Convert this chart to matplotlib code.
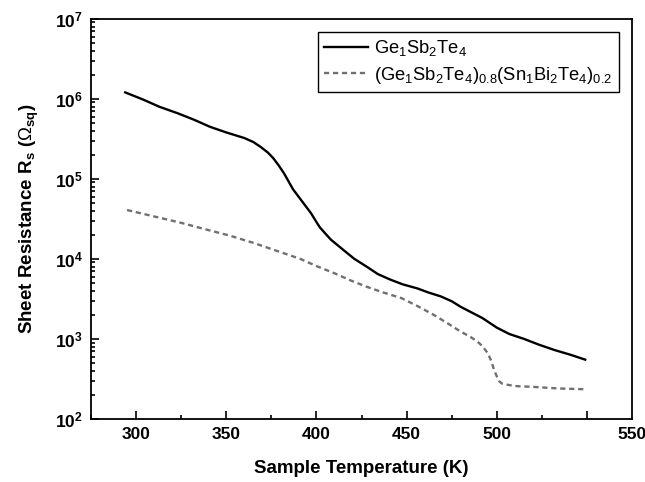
import matplotlib

matplotlib.use("Agg")
import matplotlib.pyplot as plt
from matplotlib.ticker import LogLocator, NullFormatter, MultipleLocator

# sheet resistance vs temperature (log10 of ohm/sq)
temp_gst = [294, 304, 313, 323, 332, 341, 350, 360, 365, 369, 373, 376, 379,
            382, 385, 387, 391, 394, 397, 400, 402, 408, 415, 421, 428, 434,
            441, 448, 456, 462, 469, 475, 480, 486, 492, 500, 507, 515, 523,
            532, 541, 549]
logr_gst = [6.08, 5.99, 5.90, 5.82, 5.74, 5.65, 5.58, 5.51, 5.46, 5.40, 5.33,
            5.26, 5.17, 5.07, 4.95, 4.87, 4.75, 4.66, 4.57, 4.46, 4.39, 4.24,
            4.11, 4.00, 3.90, 3.81, 3.74, 3.68, 3.63, 3.58, 3.53, 3.47, 3.40,
            3.33, 3.26, 3.14, 3.06, 3.00, 2.93, 2.86, 2.80, 2.74]

temp_mix = [295, 310, 325, 340, 352, 365, 378, 391, 400, 410, 419, 428, 437,
            447, 456, 465, 473, 480, 485, 489, 492, 495, 497, 498.5, 500,
            501.3, 503, 505, 510, 520, 534, 549]
logr_mix = [4.61, 4.53, 4.45, 4.36, 4.29, 4.20, 4.10, 4.00, 3.91, 3.82, 3.73,
            3.65, 3.58, 3.51, 3.41, 3.30, 3.19, 3.09, 3.03, 2.97, 2.91, 2.82,
            2.72, 2.61, 2.53, 2.47, 2.44, 2.43, 2.41, 2.40, 2.38, 2.37]

label_gst = "Ge$_1$Sb$_2$Te$_4$"
label_mix = "(Ge$_1$Sb$_2$Te$_4$)$_{0.8}$(Sn$_1$Bi$_2$Te$_4$)$_{0.2}$"

x_ticks = [300, 350, 400, 450, 500, 550, 575]
x_labels = ["300", "350", "400", "450", "500", "", "550"]

plt.rcParams["font.family"] = ["Liberation Sans", "DejaVu Sans"]
plt.rcParams["mathtext.fontset"] = "custom"
plt.rcParams["mathtext.rm"] = "Liberation Sans"
plt.rcParams["mathtext.it"] = "Liberation Sans:italic"
plt.rcParams["mathtext.bf"] = "Liberation Sans:bold"

fig = plt.figure(figsize=(6.45, 4.82), dpi=100)
ax = fig.add_axes([0.141, 0.131, 0.839, 0.830])

ax.plot(temp_gst, [10 ** v for v in logr_gst], color="black", lw=1.7,
        label=label_gst)
ax.plot(temp_mix, [10 ** v for v in logr_mix], color="#707070", lw=1.7,
        ls=(0, (2.2, 1.6)), label=label_mix)

ax.set_yscale("log")
ax.set_ylim(1e2, 1e7)
ax.set_xlim(275, 575)

ax.set_xticks(x_ticks)
ax.set_xticklabels(x_labels)
ax.xaxis.get_major_ticks()[-1].tick1line.set_visible(False)
ax.xaxis.set_minor_locator(MultipleLocator(25))

ax.yaxis.set_major_locator(LogLocator(base=10, numticks=10))
ax.yaxis.set_minor_locator(LogLocator(base=10, subs=range(2, 10), numticks=100))
ax.yaxis.set_minor_formatter(NullFormatter())
ax.set_yticks([10 ** k for k in range(2, 8)])
ax.set_yticklabels(["$\\mathbf{10^{%d}}$" % k for k in range(2, 8)])

ax.tick_params(which="both", direction="in", top=False, right=False,
               width=1.2)
ax.tick_params(which="major", length=6, labelsize=12.5, pad=6)
ax.tick_params(which="minor", length=3)
for lab in ax.get_xticklabels():
    lab.set_fontweight("bold")
for sp in ax.spines.values():
    sp.set_linewidth(1.3)

ax.set_xlabel("Sample Temperature (K)", fontsize=13.5, fontweight="bold",
              labelpad=13)
ax.set_ylabel("Sheet Resistance R$_\\mathbf{s}$ ($\\Omega_\\mathbf{sq}$)",
              fontsize=13.5, fontweight="bold", labelpad=10)

leg = ax.legend(loc="upper right", bbox_to_anchor=(0.975, 0.967),
                borderaxespad=0, fontsize=13.2, fancybox=False, framealpha=1,
                edgecolor="black", handlelength=2.4, handletextpad=0.3,
                borderpad=0.35, labelspacing=0.35)
leg.get_frame().set_linewidth(1.0)

fig.savefig("out.png", dpi=100)
plt.close("all")
